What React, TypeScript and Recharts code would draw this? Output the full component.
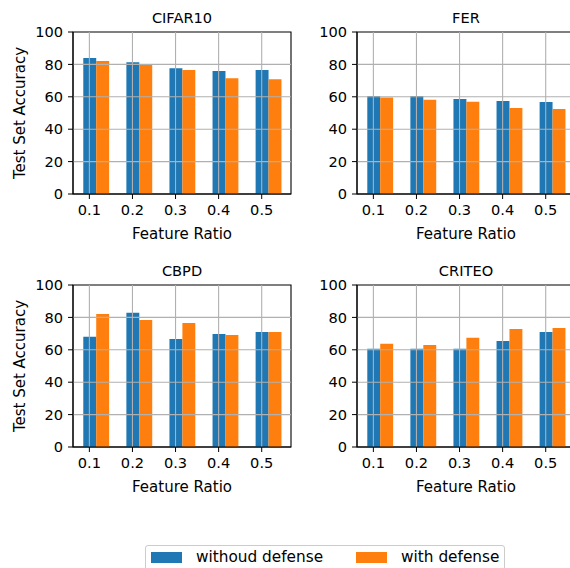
import React from "react";
import {
  ComposedChart,
  Bar,
  XAxis,
  YAxis,
  ReferenceLine,
  ReferenceArea,
  Legend,
} from "recharts";

// values (test set accuracy, %)
const ratioLabels = ["0.1", "0.2", "0.3", "0.4", "0.5"];
const seriesNames = ["withoud defense", "with defense"];
const yTicks = [0, 20, 40, 60, 80, 100];

const cifarNoDefense = [83.9, 81.4, 77.7, 75.9, 76.5];
const cifarDefense = [82.1, 79.8, 76.5, 71.5, 70.9];
const ferNoDefense = [60.5, 60.5, 58.6, 57.4, 56.8];
const ferDefense = [59.5, 58.2, 57.0, 53.1, 52.5];
const cbpdNoDefense = [68.0, 82.8, 66.7, 69.8, 71.0];
const cbpdDefense = [82.1, 78.4, 76.6, 69.2, 71.0];
const criteoNoDefense = [60.6, 60.6, 60.6, 65.5, 71.0];
const criteoDefense = [63.7, 63.0, 67.4, 72.9, 73.5];

const BLUE = "#1f77b4";
const ORANGE = "#ff7f0e";
const GRID = "#b0b0b0";
const TICK_FONT = 14.6;
const LABEL_FONT = 15;
const TITLE_FONT = 14.6;

// bars are 0.3 wide, first one centred on the tick, second just right of it
const BAR_W = 0.3;
const xTicks = ratioLabels.map((_, i) => i);
const dataLo = -BAR_W / 2;
const dataHi = xTicks.length - 1 + BAR_W * 1.5;
const pad = 0.05 * (dataHi - dataLo);
const xDomain: [number, number] = [dataLo - pad, dataHi + pad];

const CHART_W = 300;
const CHART_H = 250;
const Y_AXIS_W = 73;
const MARGIN = { top: 32, right: 9, bottom: 6, left: 0 };
const PLOT_W = CHART_W - Y_AXIS_W - MARGIN.left - MARGIN.right;
const barPx = (PLOT_W * BAR_W) / (xDomain[1] - xDomain[0]);

const buildRows = (a: number[], b: number[]) =>
  ratioLabels.map((_, i) => ({ pos: i + BAR_W / 2, noDef: a[i], def: b[i] }));

const renderLegend = (props: any) => {
  // keep the order the series were drawn in
  const items = [...(props.payload || [])].sort(
    (p: any, q: any) => seriesNames.indexOf(p.value) - seriesNames.indexOf(q.value)
  );
  return (
    <div
      style={{
        display: "flex",
        border: "1px solid #cccccc",
        borderRadius: 3,
        background: "#fff",
        padding: "6px 5px 8px 5px",
        fontSize: 15.3,
        color: "#000",
        whiteSpace: "nowrap",
      }}
    >
      {items.map((it: any, i: number) => (
        <div
          key={it.value}
          style={{
            display: "flex",
            alignItems: "flex-start",
            marginRight: i < items.length - 1 ? 33 : 0,
          }}
        >
          <span
            style={{ width: 31, height: 11, background: it.color, marginRight: 14 }}
          />
          <span style={{ lineHeight: "11px" }}>{it.value}</span>
        </div>
      ))}
    </div>
  );
};

interface PanelProps {
  title: string;
  noDef: number[];
  def: number[];
  left: number;
  top: number;
  yLabel?: boolean;
  legend?: boolean;
}

function Panel({ title, noDef, def, left, top, yLabel, legend }: PanelProps) {
  const rows = buildRows(noDef, def);
  return (
    <div style={{ position: "absolute", left, top }}>
      <ComposedChart
        width={CHART_W}
        height={CHART_H}
        data={rows}
        margin={MARGIN}
        barGap={0}
        barSize={barPx}
      >
        <XAxis
          type="number"
          dataKey="pos"
          domain={xDomain}
          allowDataOverflow
          ticks={xTicks}
          interval={0}
          tickFormatter={(v: number) => ratioLabels[v]}
          height={50}
          tickSize={5}
          tickMargin={6}
          stroke="#000"
          tick={{ fill: "#000", fontSize: TICK_FONT }}
          label={{
            value: "Feature Ratio",
            position: "insideBottom",
            offset: 5,
            fill: "#000",
            fontSize: LABEL_FONT,
          }}
        />
        <YAxis
          type="number"
          domain={[0, 100]}
          allowDataOverflow
          ticks={yTicks}
          interval={0}
          width={Y_AXIS_W}
          tickSize={5}
          tickMargin={5}
          stroke="#000"
          tick={{ fill: "#000", fontSize: TICK_FONT }}
          label={
            yLabel
              ? {
                  value: "Test Set Accuracy",
                  angle: -90,
                  position: "insideLeft",
                  offset: 20,
                  fill: "#000",
                  fontSize: LABEL_FONT,
                  style: { textAnchor: "middle" },
                }
              : undefined
          }
        />
        <Bar dataKey="noDef" name={seriesNames[0]} fill={BLUE} isAnimationActive={false} />
        <Bar dataKey="def" name={seriesNames[1]} fill={ORANGE} isAnimationActive={false} />
        {yTicks.slice(1, -1).map((t) => (
          <ReferenceLine key={"y" + t} y={t} stroke={GRID} strokeWidth={1.1} />
        ))}
        {xTicks.map((t) => (
          <ReferenceLine key={"x" + t} x={t} stroke={GRID} strokeWidth={1.1} />
        ))}
        <ReferenceArea
          x1={xDomain[0]}
          x2={xDomain[1]}
          y1={0}
          y2={100}
          fill="none"
          fillOpacity={0}
          stroke="#000"
          strokeWidth={1.1}
          label={{ value: title, position: "top", offset: 9, fill: "#000", fontSize: TITLE_FONT }}
        />
        {legend && (
          <Legend
            layout="horizontal"
            verticalAlign="middle"
            align="center"
            wrapperStyle={{ left: 145, top: 292, width: "auto", height: "auto" }}
            content={renderLegend}
          />
        )}
      </ComposedChart>
    </div>
  );
}

export default function App() {
  return (
    <div
      style={{
        position: "absolute",
        left: 0,
        top: 0,
        width: 570,
        height: 568,
        overflow: "hidden",
        background: "#fff",
        fontFamily: "'DejaVu Sans', sans-serif",
      }}
    >
      <Panel title="CIFAR10" noDef={cifarNoDefense} def={cifarDefense} left={0} top={0} yLabel />
      <Panel title="FER" noDef={ferNoDefense} def={ferDefense} left={284} top={0} />
      <Panel title="CBPD" noDef={cbpdNoDefense} def={cbpdDefense} left={0} top={253} yLabel legend />
      <Panel title="CRITEO" noDef={criteoNoDefense} def={criteoDefense} left={284} top={253} />
    </div>
  );
}
